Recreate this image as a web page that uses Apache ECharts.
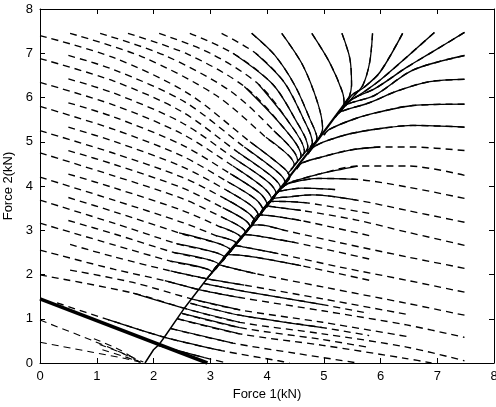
<!DOCTYPE html>
<html>
<head>
<meta charset="utf-8">
<script src="https://cdn.jsdelivr.net/npm/echarts@6.0.0/dist/echarts.min.js"></script>
<style>
html, body { margin: 0; padding: 0; background: #fff; }
#chart { width: 496px; height: 407px; }
</style>
</head>
<body>
<div id="chart"></div>
<script>
// axis ticks
const xTicks = [0, 1, 2, 3, 4, 5, 6, 7, 8];
const yTicks = [0, 1, 2, 3, 4, 5, 6, 7, 8];

// thick straight line and the thin ridge line
const limitLine = [[0, 1.45], [2.95, 0]];
const ridgeLower = [[1.85, 0], [2.0, 0.3], [2.1, 0.42], [2.2, 0.6], [2.55, 1.25], [3.0, 2.0], [3.22, 2.35]];
const ridgeUpper = [[3.22, 2.35], [3.52, 2.8], [3.72, 3.1], [4.02, 3.6], [4.33, 4.1], [4.6, 4.55], [4.9, 5.05], [5.22, 5.6], [5.45, 6.0]];

// trajectories coming from the top / left edge
const upperLeft = [
  [[5.86, 7.45], [5.81, 6.8], [5.69, 6.28], [5.52, 6.02], [5.4, 5.85]],
  [[5.32, 7.45], [5.46, 6.88], [5.49, 6.28], [5.44, 5.98], [5.34, 5.78]],
  [[4.79, 7.45], [5.1, 6.8], [5.33, 6.12], [5.36, 5.82], [5.26, 5.64]],
  [[4.26, 7.45], [4.63, 6.73], [4.9, 5.85], [4.98, 5.3], [4.93, 5.12], [4.8, 4.9]],
  [[3.73, 7.45], [4.14, 6.95], [4.5, 6.25], [4.76, 5.5], [4.88, 5.08], [4.76, 4.88]],
  [[3.2, 7.45], [3.8, 7.0], [4.3, 6.35], [4.63, 5.55], [4.8, 4.98], [4.7, 4.78]],
  [[2.64, 7.45], [3.4, 7.0], [4.1, 6.3], [4.5, 5.5], [4.72, 4.88], [4.62, 4.68]],
  [[2.1, 7.45], [3.0, 7.0], [3.85, 6.3], [4.38, 5.45], [4.66, 4.78], [4.55, 4.58]],
  [[1.55, 7.45], [2.6, 6.98], [3.6, 6.25], [4.27, 5.35], [4.6, 4.68], [4.48, 4.48]],
  [[1.06, 7.45], [2.2, 6.95], [3.35, 6.15], [4.12, 5.25], [4.54, 4.58], [4.42, 4.38]],
  [[0.53, 7.45], [1.8, 6.92], [3.1, 6.05], [3.98, 5.1], [4.48, 4.48], [4.36, 4.28]],
  [[0, 7.4], [1.3, 6.9], [2.6, 6.1], [3.7, 5.0], [4.3, 4.4], [4.4, 4.2], [4.28, 4.0]],
  [[0.5, 6.95], [1.3, 6.63], [2.55, 5.9], [3.6, 4.88], [4.2, 4.3], [4.32, 4.08], [4.2, 3.88]],
  [[0, 6.88], [1.3, 6.37], [2.5, 5.68], [3.5, 4.75], [4.1, 4.2], [4.24, 3.95], [4.1, 3.75]],
  [[0.5, 6.42], [1.3, 6.1], [2.5, 5.43], [3.45, 4.6], [4.03, 4.08], [4.16, 3.83], [4.03, 3.62]],
  [[0, 6.34], [1.3, 5.83], [2.5, 5.18], [3.4, 4.45], [3.95, 3.95], [4.08, 3.7], [3.95, 3.5]],
  [[0.5, 5.88], [1.3, 5.56], [2.5, 4.93], [3.35, 4.28], [3.88, 3.83], [4.0, 3.58], [3.88, 3.38]],
  [[0, 5.8], [1.3, 5.28], [2.5, 4.68], [3.3, 4.1], [3.8, 3.7], [3.93, 3.45], [3.8, 3.25]],
  [[0.5, 5.33], [1.3, 5.01], [2.5, 4.44], [3.28, 3.91], [3.73, 3.55], [3.85, 3.33], [3.72, 3.12]],
  [[0, 5.25], [1.3, 4.74], [2.5, 4.2], [3.25, 3.72], [3.66, 3.4], [3.78, 3.2], [3.65, 3.0]],
  [[0.5, 4.8], [1.3, 4.49], [2.5, 3.96], [3.22, 3.51], [3.6, 3.24], [3.7, 3.08], [3.58, 2.88]],
  [[0, 4.75], [1.3, 4.23], [2.5, 3.72], [3.2, 3.3], [3.53, 3.08], [3.62, 2.95], [3.5, 2.75]],
  [[0.5, 4.27], [1.3, 3.96], [2.5, 3.45], [3.15, 3.09], [3.54, 2.83], [3.42, 2.62]],
  [[0, 4.2], [1.3, 3.68], [2.5, 3.18], [3.1, 2.88], [3.46, 2.7], [3.35, 2.5]],
  [[0.5, 3.74], [1.3, 3.42], [2.45, 2.94], [3.36, 2.54], [3.24, 2.35]],
  [[0, 3.68], [1.3, 3.16], [2.4, 2.7], [3.26, 2.38], [3.14, 2.2]],
  [[0.5, 3.22], [1.3, 2.92], [2.35, 2.5], [3.15, 2.22], [3.03, 2.03]],
  [[0, 3.16], [1.3, 2.67], [2.3, 2.3], [3.03, 2.05], [2.92, 1.88]]
];
const upperLeftSolid = [
  [0, 4], [0, 4], [0, 4],
  [0, 5], [0, 5], [1, 5], [1, 5], [2, 5], [2, 5], [3, 5], [3, 5],
  [3, 6], [3, 6], [3, 6], [3, 6], [3, 6], [3, 6], [3, 6], [3, 6], [3, 6], [3, 6], [3, 6],
  [3, 5], [3, 5], [2, 4], [2, 4], [2, 4], [2, 4]
];

// fan in the upper right
const fan = [
  [[6.39, 7.45], [5.99, 6.57], [5.7, 6.22], [5.5, 6.06], [5.36, 5.85]],
  [[6.95, 7.47], [6.45, 6.9], [5.99, 6.39], [5.62, 6.05], [5.45, 5.92]],
  [[7.48, 7.47], [6.9, 7.02], [6.46, 6.68], [5.9, 6.2], [5.5, 5.97], [5.38, 5.8]],
  [[7.48, 6.95], [6.57, 6.62], [5.9, 6.05], [5.42, 5.85], [5.3, 5.7]],
  [[7.48, 6.41], [6.87, 6.36], [6.3, 6.15], [5.8, 5.88], [5.3, 5.68], [5.2, 5.55]],
  [[7.48, 5.85], [6.57, 5.82], [6.0, 5.68], [5.55, 5.52], [5.1, 5.28], [5.0, 5.15]],
  [[7.48, 5.33], [6.57, 5.37], [6.0, 5.3], [5.46, 5.18], [5.05, 5.02], [4.82, 4.88], [4.72, 4.72]],
  [[7.48, 4.8], [6.57, 4.88], [5.99, 4.88], [5.46, 4.81], [4.95, 4.65], [4.62, 4.52], [4.52, 4.38]],
  [[7.48, 4.24], [6.5, 4.45], [5.6, 4.45], [4.95, 4.28], [4.5, 4.12], [4.35, 4.05], [4.22, 3.9]]
];
const fanSolid = [[0, 4], [0, 4], [0, 5], [0, 4], [0, 5], [0, 5], [0, 6], [2, 6], [2, 6]];

// trajectories from the right edge that run into the ridge
const lowerRight = [
  [[7.48, 3.72], [6.46, 3.98], [5.58, 4.15], [4.9, 4.17], [4.45, 4.08], [4.27, 3.98], [4.15, 3.8]],
  [[7.48, 3.18], [6.46, 3.45], [5.58, 3.68], [4.8, 3.8], [4.35, 3.75], [4.12, 3.72], [4.0, 3.52]],
  [[7.48, 2.66], [6.46, 2.96], [5.58, 3.23], [4.6, 3.45], [4.15, 3.52], [3.99, 3.55], [3.87, 3.35]],
  [[7.48, 2.14], [6.46, 2.4], [5.28, 2.72], [4.3, 3.0], [3.85, 3.12], [3.72, 3.1], [3.6, 2.92]],
  [[7.48, 1.6], [6.46, 1.87], [5.28, 2.17], [4.2, 2.47], [3.6, 2.62], [3.45, 2.65], [3.32, 2.47]],
  [[7.48, 1.08], [6.46, 1.35], [4.98, 1.72], [3.8, 2.02], [3.3, 2.17], [3.15, 2.22], [3.02, 2.02]],
  [[5.8, 1.87], [4.6, 2.2], [3.75, 2.4], [3.32, 2.45], [3.2, 2.3]],
  [[5.8, 2.35], [4.5, 2.72], [3.8, 2.88], [3.6, 2.9], [3.48, 2.72]],
  [[5.8, 2.88], [4.6, 3.22], [4.05, 3.33], [3.85, 3.35], [3.73, 3.15]],
  [[5.8, 3.38], [4.7, 3.62], [4.2, 3.65], [4.05, 3.65], [3.93, 3.45]],
  [[5.2, 3.92], [4.6, 3.95], [4.3, 3.9], [4.18, 3.86], [4.06, 3.66]]
];
const lowerRightSolid = [[2, 6], [2, 6], [3, 6], [3, 6], [3, 6], [3, 6], [1, 4], [1, 4], [1, 4], [1, 4], [0, 4]];

// trajectories crossing the lower part of the ridge
const crossing = [
  [[0.53, 2.68], [1.3, 2.4], [2.3, 2.08], [2.95, 1.9], [3.6, 1.76], [4.98, 1.45], [6.46, 1.1]],
  [[2.88, 1.8], [3.6, 1.62], [4.98, 1.32], [5.8, 1.12]],
  [[0, 2.55], [1.3, 2.12], [2.2, 1.86], [2.8, 1.66], [3.52, 1.48], [4.98, 1.18], [6.46, 0.86], [7.48, 0.58]],
  [[2.65, 1.35], [3.52, 1.08], [4.98, 0.8], [5.8, 0.62]],
  [[0.53, 2.1], [1.64, 1.82], [2.7, 1.44], [3.52, 1.2], [4.98, 0.92], [6.46, 0.6]],
  [[0, 1.99], [1.64, 1.58], [2.59, 1.22], [3.52, 0.92], [4.98, 0.66], [6.46, 0.36], [7.48, 0.05]],
  [[2.5, 1.12], [3.52, 0.8], [4.98, 0.53], [5.8, 0.35]],
  [[2.42, 1.0], [3.52, 0.66], [4.98, 0.4], [6.46, 0.1], [6.9, 0]],
  [[2.3, 0.78], [3.4, 0.45], [4.5, 0.22], [5.6, 0]],
  [[0.3, 1.36], [1.2, 0.98], [2.2, 0.58], [3.2, 0.28], [4.2, 0.05], [4.4, 0]],
  [[2.08, 0.4], [2.9, 0.12], [3.3, 0]]
];
const crossingSolid = [[2, 4], [0, 2], [2, 4], [0, 2], [2, 3], [1, 3], [0, 1], [0, 1], [0, 1], [1, 3], [0, 1]];

// below the thick line
const bottomLeft = [
  [[0, 0.97], [0.9, 0.52], [1.5, 0.2], [1.82, 0.02]],
  [[0, 0.47], [0.9, 0.25], [1.5, 0.1], [1.8, 0.01]],
  [[0.95, 0.55], [1.4, 0.3], [1.76, 0.02]],
  [[1.05, 0.42], [1.45, 0.22], [1.76, 0.02]],
  [[1.1, 0.3], [1.5, 0.14], [1.76, 0.02]]
];

const series = [];

function addLines(lines, solid, width) {
  lines.forEach(function (pts, i) {
    series.push({
      type: 'line', data: pts, smooth: 0.3, showSymbol: false, silent: true,
      lineStyle: { color: '#000', width: width + 0.1, type: [7, 5] }
    });
    const r = solid && solid[i];
    if (r) {
      series.push({
        type: 'line', data: pts.slice(r[0], r[1] + 1), smooth: 0.3, showSymbol: false, silent: true,
        lineStyle: { color: '#000', width: width }
      });
    }
  });
}

addLines(upperLeft, upperLeftSolid, 1.25);
addLines(fan, fanSolid, 1.4);
addLines(lowerRight, lowerRightSolid, 1.25);
addLines(crossing, crossingSolid, 1.25);
addLines(bottomLeft, null, 1);

series.push({ type: 'line', data: ridgeLower, showSymbol: false, silent: true, lineStyle: { color: '#000', width: 1.5 } });
series.push({ type: 'line', data: ridgeUpper, smooth: 0.3, showSymbol: false, silent: true, lineStyle: { color: '#000', width: 2.2 } });
series.push({ type: 'line', data: limitLine, showSymbol: false, silent: true, lineStyle: { color: '#000', width: 3.5 } });

const font = 'Liberation Sans, Arial, sans-serif';

function axisBase(pos, labels) {
  return {
    type: 'value', min: 0, max: 8, interval: 1, position: pos,
    axisLine: { show: true, onZero: false, lineStyle: { color: '#000', width: 1 } },
    axisTick: { show: true, inside: true, length: 5, lineStyle: { color: '#000' } },
    axisLabel: { show: labels, color: '#000', fontSize: 13, fontFamily: font, margin: 7 },
    splitLine: { show: false }
  };
}

const xMain = axisBase('bottom', true);
xMain.name = 'Force 1(kN)';
xMain.nameLocation = 'middle';
xMain.nameGap = 24;
xMain.nameTextStyle = { color: '#000', fontSize: 13, fontFamily: font };
xMain.axisLabel.formatter = function (v) { return xTicks.indexOf(v) >= 0 ? String(v) : ''; };

const yMain = axisBase('left', true);
yMain.name = 'Force 2(kN)';
yMain.nameLocation = 'middle';
yMain.nameGap = 22;
yMain.nameTextStyle = { color: '#000', fontSize: 13, fontFamily: font };
yMain.axisLabel.formatter = function (v) { return yTicks.indexOf(v) >= 0 ? String(v) : ''; };

const chart = echarts.init(document.getElementById('chart'));
chart.setOption({
  animation: false,
  backgroundColor: '#fff',
  grid: { left: 40, right: 2, top: 9, bottom: 44, containLabel: false, outerBoundsMode: 'none' },
  xAxis: [xMain, axisBase('top', false)],
  yAxis: [yMain, axisBase('right', false)],
  series: series
});
</script>
</body>
</html>
